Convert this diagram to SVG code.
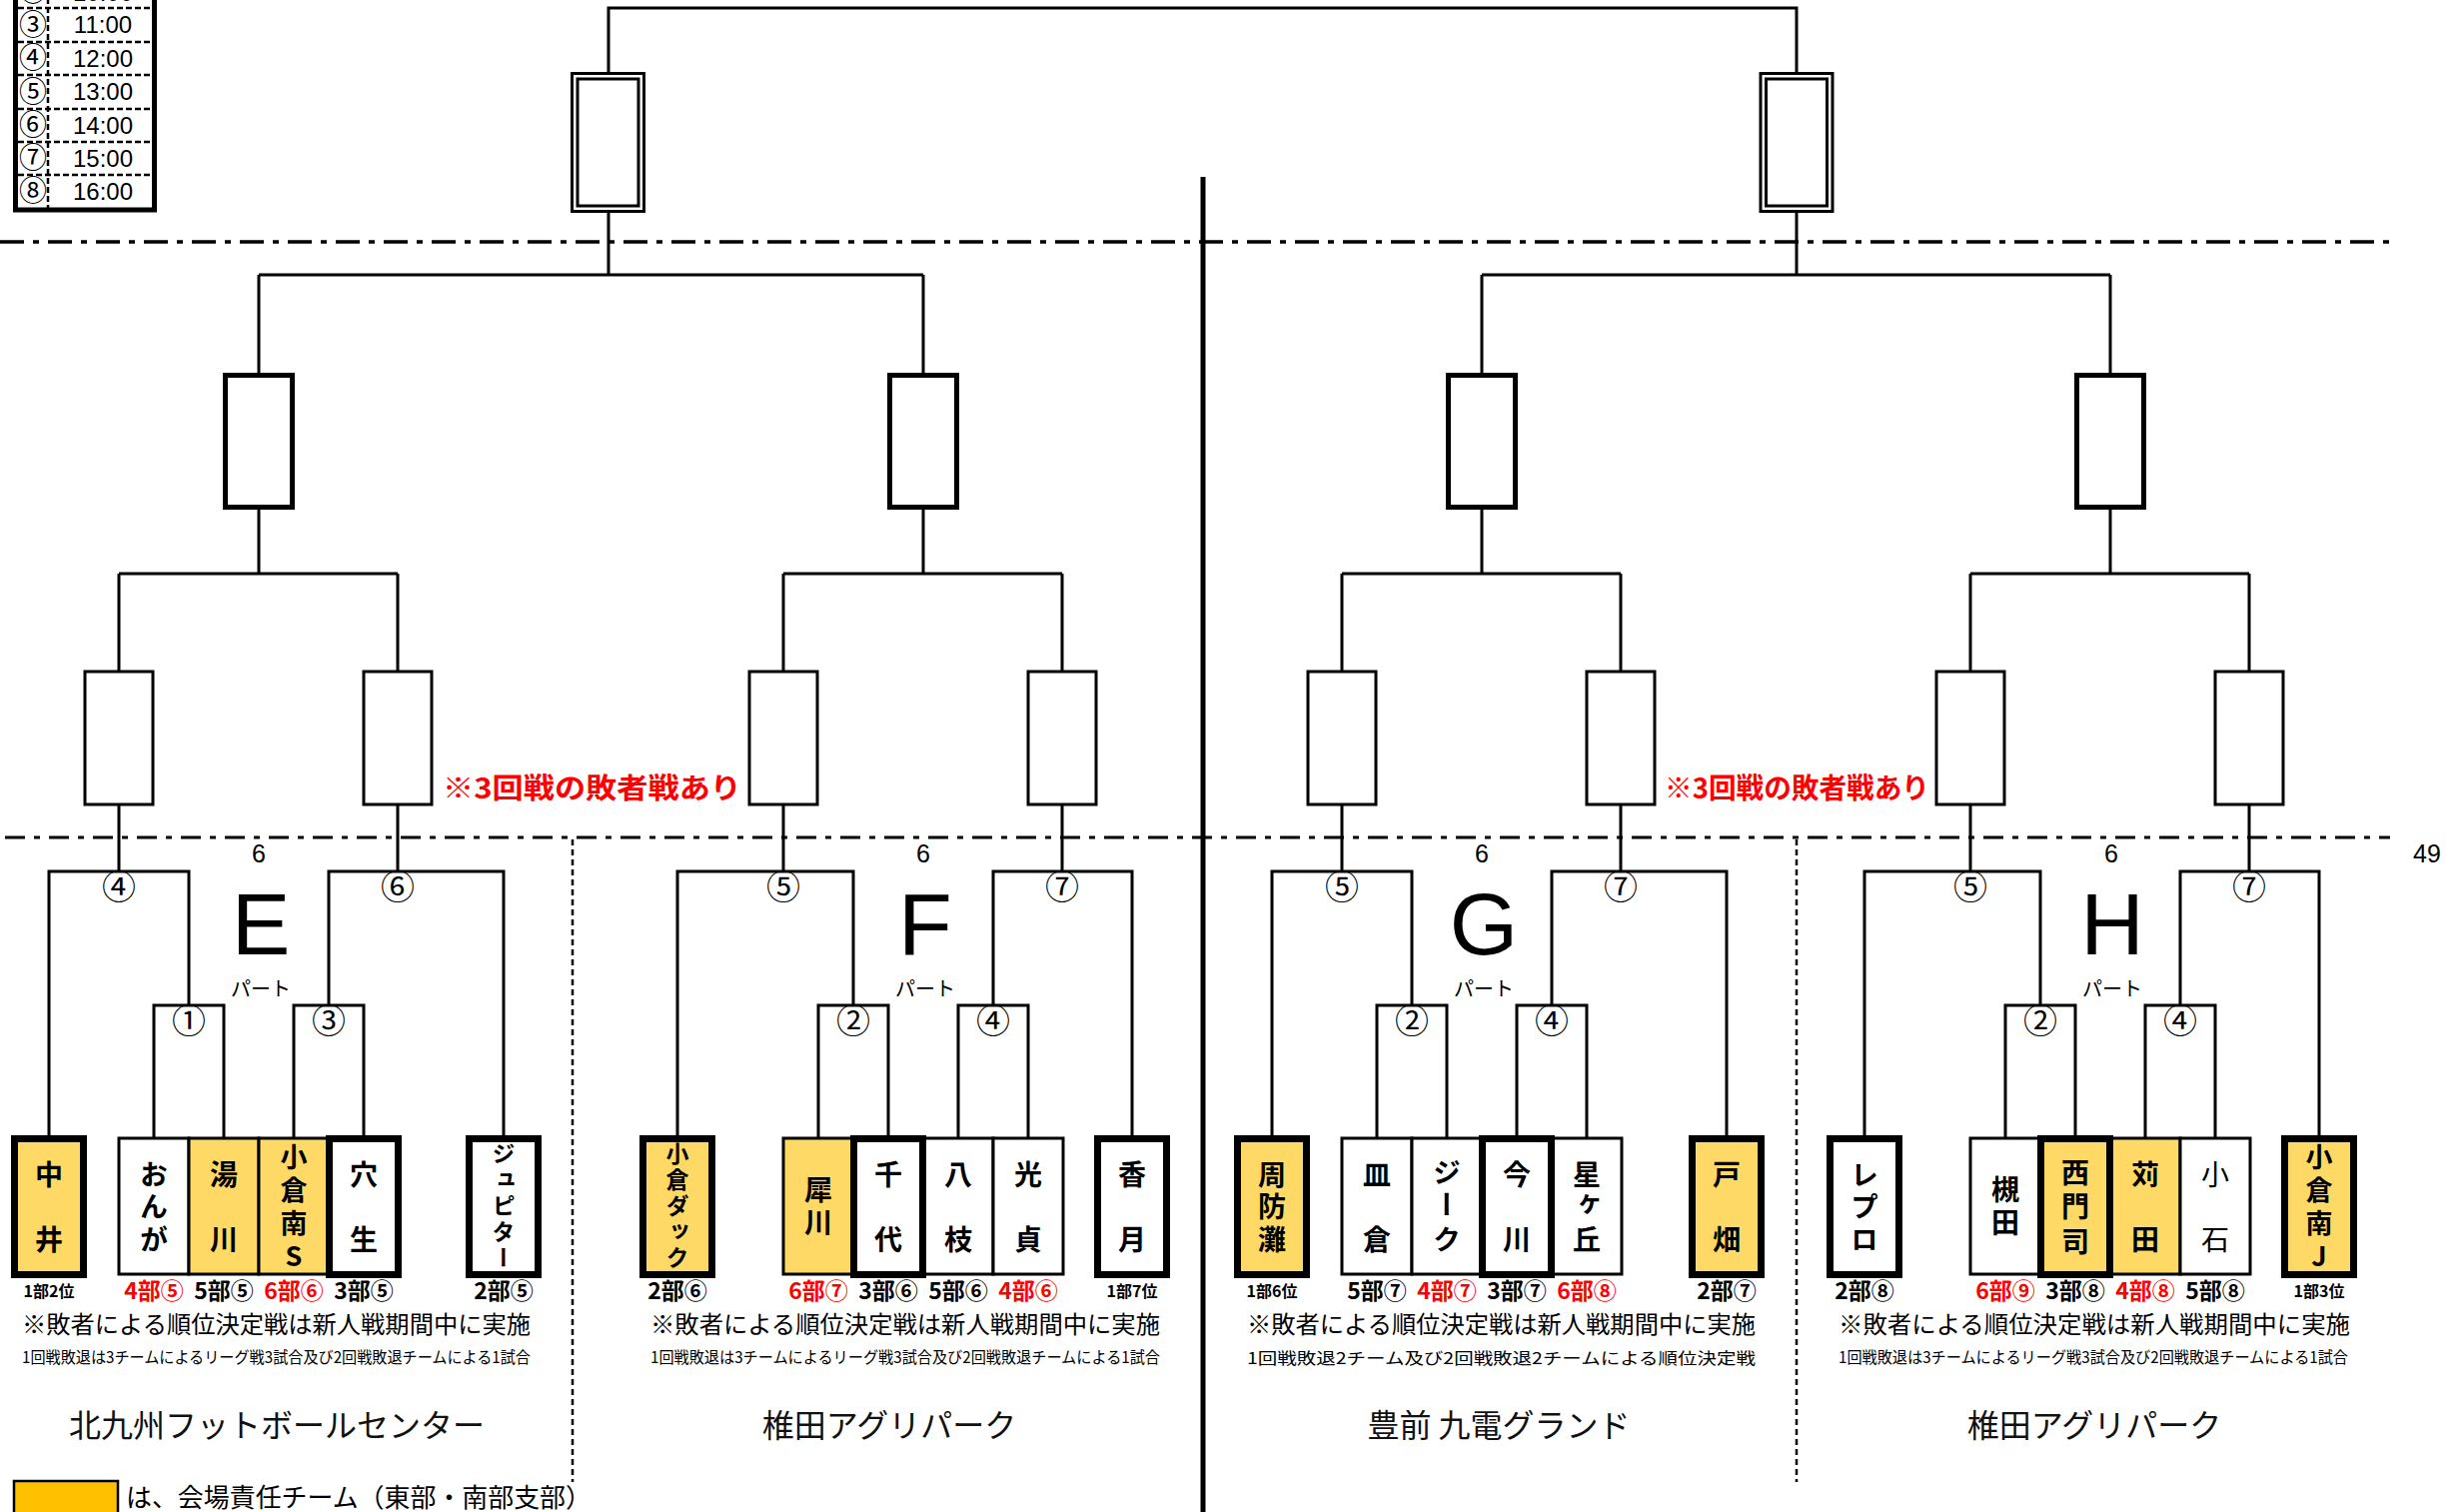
<svg xmlns="http://www.w3.org/2000/svg" width="2466" height="1513" viewBox="0 0 2466 1513">
<style>
.ln{fill:none;stroke:#000;stroke-width:3}
.bx{fill:#fff;stroke:#000;stroke-width:3}
.tk{stroke-width:7}
.yl{fill:#FFD966}
.sb{fill:#fff;stroke:#000;stroke-width:5}
.jp{font-family:"Noto Sans CJK JP","Noto Sans CJK SC",sans-serif}
.tn{font-family:"Noto Sans CJK JP","Noto Sans CJK SC",sans-serif;font-weight:700;font-size:28px;writing-mode:vertical-rl;text-orientation:upright;text-anchor:middle}
.t4{font-size:27px}
.t5{font-size:23px}
.rg{font-weight:400}
.cn{font-family:"Noto Sans CJK JP","Noto Sans CJK SC",sans-serif;font-size:34px;text-anchor:middle}
.cs{font-family:"Noto Sans CJK JP","Noto Sans CJK SC",sans-serif;font-size:28px;text-anchor:middle}
.lb{font-family:"Noto Sans CJK JP","Noto Sans CJK SC",sans-serif;font-weight:700;font-size:23px;text-anchor:middle}
.sm{font-size:16px}
.red{fill:#FF0000}
.nt{font-family:"Noto Sans CJK JP","Noto Sans CJK SC",sans-serif;font-size:24px}
.n2{font-family:"Noto Sans CJK JP","Noto Sans CJK SC",sans-serif;font-size:16px}
.vn{font-family:"Noto Sans CJK JP","Noto Sans CJK SC",sans-serif;font-size:32px;text-anchor:middle;fill:#111}
.pl{font-family:"Liberation Sans",Arial,sans-serif;font-size:88px;text-anchor:middle}
.six{font-family:"Liberation Sans",Arial,sans-serif;font-size:25px;text-anchor:middle}
.pt{font-family:"Noto Sans CJK JP","Noto Sans CJK SC",sans-serif;font-size:20px;text-anchor:middle}
.rt{font-family:"Noto Sans CJK JP","Noto Sans CJK SC",sans-serif;font-weight:700;font-size:28px;fill:#FF0000}
.tm{font-family:"Liberation Sans",Arial,sans-serif;font-size:24px;text-anchor:middle}
</style>
<rect width="2466" height="1513" fill="#fff"/>

<g id="schedule">
<rect x="15.5" y="-20" width="139" height="230" fill="#fff" stroke="#000" stroke-width="5"/>
<path d="M18,8H152M18,42H152M18,75H152M18,109H152M18,142H152M18,175H152M48,-20V208" fill="none" stroke="#000" stroke-width="2.5" stroke-dasharray="6 3"/>
<text class="cs" x="33" y="1">②</text><text class="tm" x="103" y="1">10:00</text>
<text class="cs" x="33" y="35">③</text><text class="tm" x="103" y="33">11:00</text>
<text class="cs" x="33" y="68">④</text><text class="tm" x="103" y="67">12:00</text>
<text class="cs" x="33" y="102">⑤</text><text class="tm" x="103" y="100">13:00</text>
<text class="cs" x="33" y="135">⑥</text><text class="tm" x="103" y="134">14:00</text>
<text class="cs" x="33" y="168">⑦</text><text class="tm" x="103" y="167">15:00</text>
<text class="cs" x="33" y="201">⑧</text><text class="tm" x="103" y="200">16:00</text>
</g>

<g id="guides">
<path d="M0,242H2392" fill="none" stroke="#000" stroke-width="3.5" stroke-dasharray="24 9 6 9"/>
<path d="M5,838H2392" fill="none" stroke="#000" stroke-width="3" stroke-dasharray="20 9 6 9"/>
<path d="M1204,177V1513" fill="none" stroke="#000" stroke-width="5"/>
<path d="M573,840V1483M1798,840V1483" fill="none" stroke="#000" stroke-width="2.5" stroke-dasharray="6 4"/>
</g>

<g id="connectors" class="ln">
<path d="M609,73V8H1798V73"/>
<path d="M609,212V275M1798,212V275"/>
<path d="M259,275H924M1483,275H2112"/>
<path d="M259,275V373M924,275V373M1483,275V373M2112,275V373"/>
<path d="M259,510V574M924,510V574M1483,510V574M2112,510V574"/>
<path d="M119,574H398M784,574H1063M1343,574H1622M1972,574H2251"/>
<path d="M119,574V671M398,574V671M784,574V671M1063,574V671M1343,574V671M1622,574V671M1972,574V671M2251,574V671"/>
<path d="M119,806V872M398,806V872M784,806V872M1063,806V872M1343,806V872M1622,806V872M1972,806V872M2251,806V872"/>
<path d="M49,1136V872H189V1006M154,1139V1006H224V1139M294,1139V1006H364V1139M329,1006V872H504V1136"/>
<path d="M678,1136V872H854V1006M819,1139V1006H889V1139M959,1139V1006H1029V1139M994,1006V872H1133V1136"/>
<path d="M1273,1136V872H1413V1006M1378,1139V1006H1448V1139M1518,1139V1006H1588V1139M1553,1006V872H1728V1136"/>
<path d="M1866,1136V872H2042V1006M2007,1139V1006H2077V1139M2147,1139V1006H2217V1139M2182,1006V872H2321V1136"/>
</g>

<g id="final-left"><rect x="572.5" y="73.5" width="72" height="138" class="bx"/><rect x="578" y="79" width="61" height="127" class="bx"/></g>
<g id="final-right"><rect x="1762" y="73.5" width="72" height="138" class="bx"/><rect x="1767.5" y="79" width="61" height="127" class="bx"/></g>

<g id="semi-E"><rect x="225.5" y="375.5" width="67" height="132" class="sb"/></g>
<g id="semi-F"><rect x="890.5" y="375.5" width="67" height="132" class="sb"/></g>
<g id="semi-G"><rect x="1449.5" y="375.5" width="67" height="132" class="sb"/></g>
<g id="semi-H"><rect x="2078.5" y="375.5" width="67" height="132" class="sb"/></g>

<g id="qf-E1"><rect x="85" y="672" width="68" height="133" class="bx"/></g>
<g id="qf-E2"><rect x="364" y="672" width="68" height="133" class="bx"/></g>
<g id="qf-F1"><rect x="750" y="672" width="68" height="133" class="bx"/></g>
<g id="qf-F2"><rect x="1029" y="672" width="68" height="133" class="bx"/></g>
<g id="qf-G1"><rect x="1309" y="672" width="68" height="133" class="bx"/></g>
<g id="qf-G2"><rect x="1588" y="672" width="68" height="133" class="bx"/></g>
<g id="qf-H1"><rect x="1938" y="672" width="68" height="133" class="bx"/></g>
<g id="qf-H2"><rect x="2217" y="672" width="68" height="133" class="bx"/></g>

<g id="notes-red">
<text class="rt" x="443" y="799" textLength="299" lengthAdjust="spacingAndGlyphs">※3回戦の敗者戦あり</text>
<text class="rt" x="1666" y="799" textLength="265" lengthAdjust="spacingAndGlyphs">※3回戦の敗者戦あり</text>
</g>

<g id="part-labels">
<text class="six" x="259" y="863">6</text><text class="pl" x="261" y="955">E</text><text class="pt" x="261" y="997">パート</text>
<text class="six" x="924" y="863">6</text><text class="pl" x="926" y="955">F</text><text class="pt" x="926" y="997">パート</text>
<text class="six" x="1483" y="863">6</text><text class="pl" x="1485" y="955">G</text><text class="pt" x="1485" y="997">パート</text>
<text class="six" x="2113" y="863">6</text><text class="pl" x="2114" y="955">H</text><text class="pt" x="2114" y="997">パート</text>
<text class="six" x="2429" y="863">49</text>
</g>

<g id="match-numbers">
<text class="cn" x="119" y="900">④</text><text class="cn" x="398" y="900">⑥</text><text class="cn" x="189" y="1034">①</text><text class="cn" x="329" y="1034">③</text>
<text class="cn" x="784" y="900">⑤</text><text class="cn" x="1063" y="900">⑦</text><text class="cn" x="854" y="1034">②</text><text class="cn" x="994" y="1034">④</text>
<text class="cn" x="1343" y="900">⑤</text><text class="cn" x="1622" y="900">⑦</text><text class="cn" x="1413" y="1034">②</text><text class="cn" x="1553" y="1034">④</text>
<text class="cn" x="1972" y="900">⑤</text><text class="cn" x="2251" y="900">⑦</text><text class="cn" x="2042" y="1034">②</text><text class="cn" x="2182" y="1034">④</text>
</g>

<!-- E part teams -->
<g id="team-onga"><rect x="119" y="1139" width="70" height="136" class="bx"/><text class="tn" x="154" y="1175 1207 1240">おんが</text><text class="lb red" x="154" y="1300">4部⑤</text></g>
<g id="team-yukawa"><rect x="189" y="1139" width="70" height="136" class="bx yl"/><text class="tn" x="224" y="1175 1240">湯川</text><text class="lb" x="224" y="1300">5部⑤</text></g>
<g id="team-kokuraminami-s"><rect x="259" y="1139" width="70" height="136" class="bx yl"/><text class="tn t4" x="294" y="1158 1191 1224 1257">小倉南S</text><text class="lb red" x="294" y="1300">6部⑥</text></g>
<g id="team-nakama"><rect x="14.5" y="1139.5" width="69" height="136" class="bx tk yl"/><text class="tn" x="49" y="1175 1240">中井</text><text class="lb sm" x="49" y="1298">1部2位</text></g>
<g id="team-anou"><rect x="329.5" y="1139.5" width="69" height="136" class="bx tk"/><text class="tn" x="364" y="1175 1240">穴生</text><text class="lb" x="364" y="1300">3部⑤</text></g>
<g id="team-jupiter"><rect x="469.5" y="1139.5" width="69" height="136" class="bx tk"/><text class="tn t5" x="504" y="1154 1180 1206 1232 1258">ジュピター</text><text class="lb" x="504" y="1300">2部⑤</text></g>

<!-- F part teams -->
<g id="team-saigawa"><rect x="784" y="1139" width="70" height="136" class="bx yl"/><text class="tn" x="819" y="1190 1223">犀川</text><text class="lb red" x="819" y="1300">6部⑦</text></g>
<g id="team-yae"><rect x="924" y="1139" width="70" height="136" class="bx"/><text class="tn" x="959" y="1175 1240">八枝</text><text class="lb" x="959" y="1300">5部⑥</text></g>
<g id="team-mitsusada"><rect x="994" y="1139" width="70" height="136" class="bx"/><text class="tn" x="1029" y="1175 1240">光貞</text><text class="lb red" x="1029" y="1300">4部⑥</text></g>
<g id="team-kokura-duck"><rect x="643.5" y="1139.5" width="69" height="136" class="bx tk yl"/><text class="tn t5" x="678" y="1154 1180 1206 1232 1258">小倉ダック</text><text class="lb" x="678" y="1300">2部⑥</text></g>
<g id="team-chiyo"><rect x="854.5" y="1139.5" width="69" height="136" class="bx tk"/><text class="tn" x="889" y="1175 1240">千代</text><text class="lb" x="889" y="1300">3部⑥</text></g>
<g id="team-katsuki"><rect x="1098.5" y="1139.5" width="69" height="136" class="bx tk"/><text class="tn" x="1133" y="1175 1240">香月</text><text class="lb sm" x="1133" y="1298">1部7位</text></g>

<!-- G part teams -->
<g id="team-sarakura"><rect x="1343" y="1139" width="70" height="136" class="bx"/><text class="tn" x="1378" y="1175 1240">皿倉</text><text class="lb" x="1378" y="1300">5部⑦</text></g>
<g id="team-jiku"><rect x="1413" y="1139" width="70" height="136" class="bx"/><text class="tn" x="1448" y="1173 1205 1240">ジーク</text><text class="lb red" x="1448" y="1300">4部⑦</text></g>
<g id="team-hoshigaoka"><rect x="1553" y="1139" width="70" height="136" class="bx"/><text class="tn" x="1588" y="1175 1205 1240">星ヶ丘</text><text class="lb red" x="1588" y="1300">6部⑧</text></g>
<g id="team-suonada"><rect x="1238.5" y="1139.5" width="69" height="136" class="bx tk yl"/><text class="tn" x="1273" y="1175 1207 1240">周防灘</text><text class="lb sm" x="1273" y="1298">1部6位</text></g>
<g id="team-imagawa"><rect x="1483.5" y="1139.5" width="69" height="136" class="bx tk"/><text class="tn" x="1518" y="1175 1240">今川</text><text class="lb" x="1518" y="1300">3部⑦</text></g>
<g id="team-tobata"><rect x="1693.5" y="1139.5" width="69" height="136" class="bx tk yl"/><text class="tn" x="1728" y="1175 1240">戸畑</text><text class="lb" x="1728" y="1300">2部⑦</text></g>

<!-- H part teams -->
<g id="team-tsukida"><rect x="1972" y="1139" width="70" height="136" class="bx"/><text class="tn" x="2007" y="1190 1223">槻田</text><text class="lb red" x="2007" y="1300">6部⑨</text></g>
<g id="team-kanda"><rect x="2112" y="1139" width="70" height="136" class="bx yl"/><text class="tn" x="2147" y="1175 1240">苅田</text><text class="lb red" x="2147" y="1300">4部⑧</text></g>
<g id="team-koishi"><rect x="2182" y="1139" width="70" height="136" class="bx"/><text class="tn rg" x="2217" y="1175 1240">小石</text><text class="lb" x="2217" y="1300">5部⑧</text></g>
<g id="team-repro"><rect x="1831.5" y="1139.5" width="69" height="136" class="bx tk"/><text class="tn" x="1866" y="1175 1207 1240">レプロ</text><text class="lb" x="1866" y="1300">2部⑧</text></g>
<g id="team-nishimoji"><rect x="2042.5" y="1139.5" width="69" height="136" class="bx tk yl"/><text class="tn" x="2077" y="1173 1207 1242">西門司</text><text class="lb" x="2077" y="1300">3部⑧</text></g>
<g id="team-kokuraminami-j"><rect x="2286.5" y="1139.5" width="69" height="136" class="bx tk yl"/><text class="tn t4" x="2321" y="1158 1191 1224 1257">小倉南J</text><text class="lb sm" x="2321" y="1298">1部3位</text></g>

<g id="notes">
<text class="nt" x="22" y="1334" textLength="509" lengthAdjust="spacingAndGlyphs">※敗者による順位決定戦は新人戦期間中に実施</text>
<text class="n2" x="22" y="1364" textLength="509" lengthAdjust="spacingAndGlyphs">1回戦敗退は3チームによるリーグ戦3試合及び2回戦敗退チームによる1試合</text>
<text class="nt" x="651" y="1334" textLength="510" lengthAdjust="spacingAndGlyphs">※敗者による順位決定戦は新人戦期間中に実施</text>
<text class="n2" x="651" y="1364" textLength="510" lengthAdjust="spacingAndGlyphs">1回戦敗退は3チームによるリーグ戦3試合及び2回戦敗退チームによる1試合</text>
<text class="nt" x="1248" y="1334" textLength="509" lengthAdjust="spacingAndGlyphs">※敗者による順位決定戦は新人戦期間中に実施</text>
<text class="n2" x="1248" y="1365" font-size="19" textLength="509" lengthAdjust="spacingAndGlyphs">1回戦敗退2チーム及び2回戦敗退2チームによる順位決定戦</text>
<text class="nt" x="1840" y="1334" textLength="512" lengthAdjust="spacingAndGlyphs">※敗者による順位決定戦は新人戦期間中に実施</text>
<text class="n2" x="1840" y="1364" textLength="510" lengthAdjust="spacingAndGlyphs">1回戦敗退は3チームによるリーグ戦3試合及び2回戦敗退チームによる1試合</text>
</g>

<g id="venues">
<text class="vn" x="277" y="1438">北九州フットボールセンター</text>
<text class="vn" x="890" y="1438">椎田アグリパーク</text>
<text class="vn" x="1500" y="1438">豊前 九電グランド</text>
<text class="vn" x="2096" y="1438">椎田アグリパーク</text>
</g>

<g id="legend">
<rect x="14" y="1482" width="104" height="40" fill="#FFC000" stroke="#000" stroke-width="2.5"/>
<text class="jp" x="126" y="1508" font-size="26" textLength="466" lengthAdjust="spacingAndGlyphs">は、会場責任チーム（東部・南部支部）</text>
</g>
</svg>
